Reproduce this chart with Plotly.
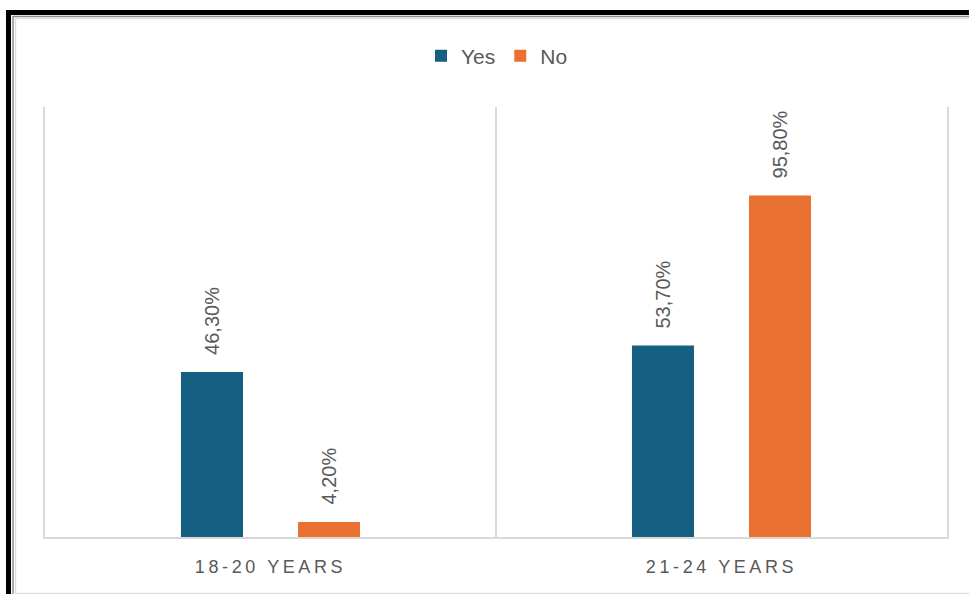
import plotly.graph_objects as go

categories = ["18-20 YEARS", "21-24 YEARS"]
yes_values = [46.3, 53.7]
no_values = [4.2, 95.8]
yes_labels = ["46,30%", "53,70%"]
no_labels = ["4,20%", "95,80%"]

W, H = 969, 594
ML, MR, MT, MB = 45, 22, 107, 57
PW = W - ML - MR
PH = H - MT - MB

FONT = "Liberation Sans, Arial, sans-serif"
GRAY = "#595959"
BLUE = "#156082"
ORANGE = "#E97132"

fig = go.Figure()
fig.add_trace(go.Bar(name="Yes", x=categories, y=yes_values, marker=dict(color=BLUE, line=dict(width=0))))
fig.add_trace(go.Bar(name="No", x=categories, y=no_values, marker=dict(color=ORANGE, line=dict(width=0))))

cat_px = PW / len(categories)
bargap = 0.481
slot = cat_px * (1 - bargap) / 2
offset_px = slot / 2

annotations = []
for cat, v, lab in zip(categories, yes_values, yes_labels):
    annotations.append(dict(x=cat, y=v, text=lab, xref="x", yref="y", showarrow=False,
                            textangle=-90, xanchor="center", yanchor="bottom",
                            xshift=-offset_px, yshift=15,
                            font=dict(family=FONT, size=20, color=GRAY)))
for cat, v, lab in zip(categories, no_values, no_labels):
    annotations.append(dict(x=cat, y=v, text=lab, xref="x", yref="y", showarrow=False,
                            textangle=-90, xanchor="center", yanchor="bottom",
                            xshift=offset_px, yshift=15,
                            font=dict(family=FONT, size=20, color=GRAY)))

def px_x(p):
    return (p - ML) / PW

def px_y(p):
    return (H - MB - p) / PH

shapes = []
# category divider
shapes.append(dict(type="line", xref="x", yref="paper", x0=0.5, x1=0.5, y0=0, y1=1,
                   line=dict(color="#D9D9D9", width=2)))
# outer frame decoration
shapes.append(dict(type="line", xref="paper", yref="paper", x0=px_x(6), x1=px_x(W + 5),
                   y0=px_y(12.5), y1=px_y(12.5), line=dict(color="black", width=5)))
shapes.append(dict(type="line", xref="paper", yref="paper", x0=px_x(8.5), x1=px_x(8.5),
                   y0=px_y(10), y1=px_y(H + 5), line=dict(color="black", width=5)))
shapes.append(dict(type="line", xref="paper", yref="paper", x0=px_x(13), x1=px_x(W + 5),
                   y0=px_y(16.5), y1=px_y(16.5), line=dict(color="#8C8C8C", width=1.5)))
shapes.append(dict(type="line", xref="paper", yref="paper", x0=px_x(13), x1=px_x(13),
                   y0=px_y(16), y1=px_y(H + 5), line=dict(color="#8C8C8C", width=1.5)))
shapes.append(dict(type="line", xref="paper", yref="paper", x0=px_x(15.5), x1=px_x(W + 5),
                   y0=px_y(18.5), y1=px_y(18.5), line=dict(color="#DDDDDD", width=1.5)))
shapes.append(dict(type="line", xref="paper", yref="paper", x0=px_x(15.5), x1=px_x(15.5),
                   y0=px_y(18), y1=px_y(H + 5), line=dict(color="#DDDDDD", width=1.5)))
shapes.append(dict(type="line", xref="paper", yref="paper", x0=px_x(15), x1=px_x(W + 5),
                   y0=px_y(593.5), y1=px_y(593.5), line=dict(color="#DDDDDD", width=1.5)))

ticktext = ['<span style="letter-spacing:3.6px">%s</span>' % c for c in categories]

fig.update_layout(
    width=W, height=H,
    margin=dict(l=ML, r=MR, t=MT, b=MB, pad=0),
    paper_bgcolor="white", plot_bgcolor="white",
    barmode="group", bargap=bargap, bargroupgap=0.47,
    font=dict(family=FONT, color=GRAY),
    showlegend=True,
    legend=dict(orientation="h", x=px_x(497), xanchor="center", y=px_y(56), yanchor="middle",
                font=dict(family=FONT, size=21, color=GRAY), itemwidth=30,
                bgcolor="rgba(0,0,0,0)"),
    xaxis=dict(type="category", range=[-0.5, 1.5], showgrid=False, zeroline=False,
               showline=True, linecolor="#D9D9D9", linewidth=2, mirror=False,
               tickmode="array", tickvals=categories, ticktext=ticktext,
               tickfont=dict(family=FONT, size=18, color=GRAY), ticks="", ticklen=0,
               ticklabelstandoff=12),
    yaxis=dict(range=[0, 120.6], showgrid=False, zeroline=False, showticklabels=False,
               showline=True, linecolor="#D9D9D9", linewidth=2, mirror=True, ticks=""),
    annotations=annotations,
    shapes=shapes,
)

fig.write_html("out.html")
